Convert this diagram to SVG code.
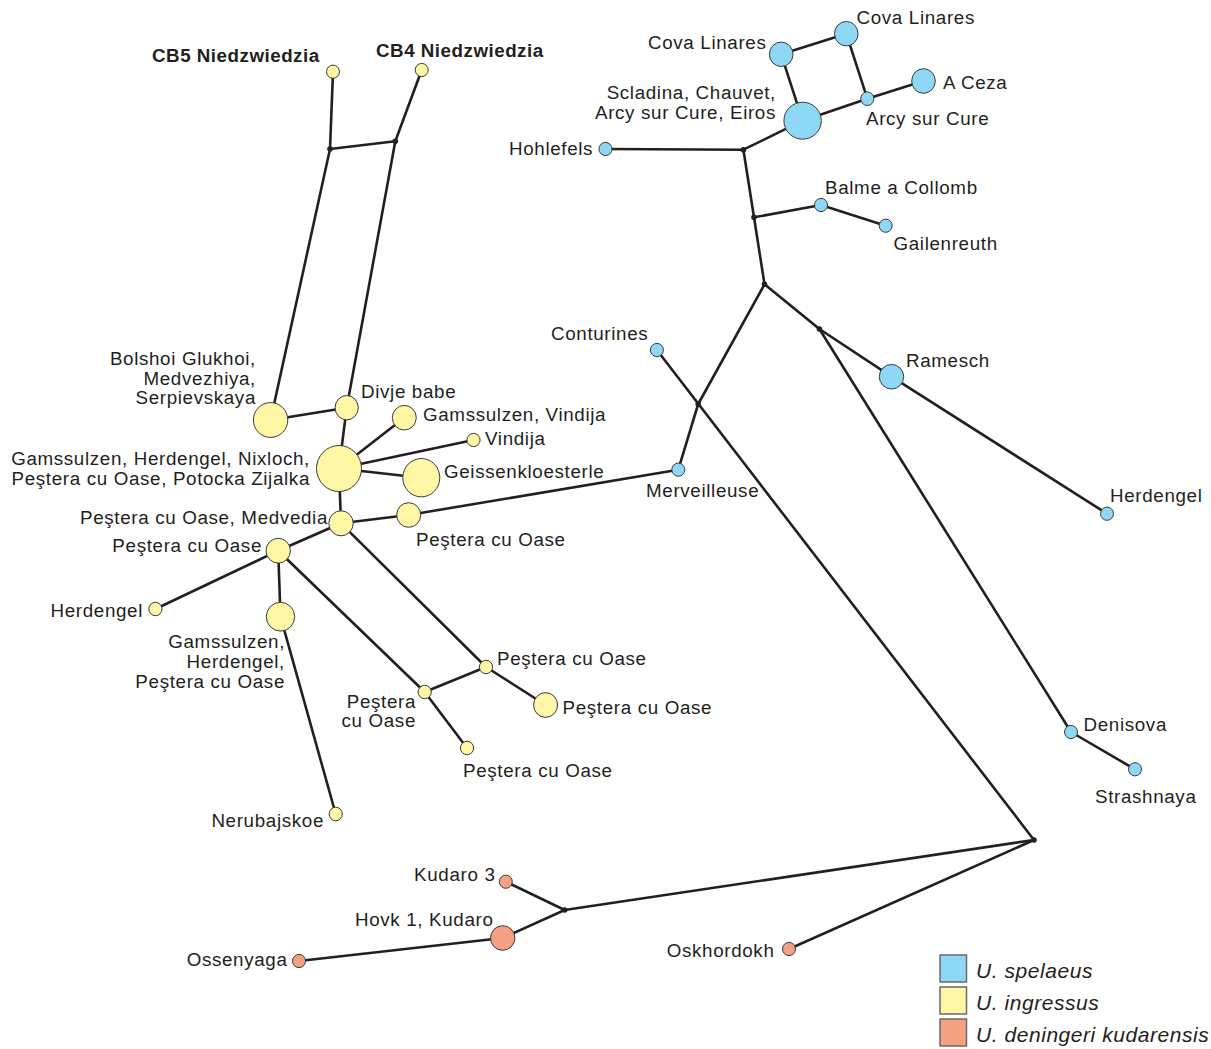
<svg xmlns="http://www.w3.org/2000/svg" width="1211" height="1049" viewBox="0 0 1211 1049">
<style>
text{font-family:"Liberation Sans",Arial,Helvetica,sans-serif;font-size:18.8px;letter-spacing:0.65px;fill:#231f20}
.b{font-weight:bold;letter-spacing:0.5px}
.e{text-anchor:end}
.lg{font-size:21px;font-style:italic;letter-spacing:0.55px}
.ed line{stroke:#231f20;stroke-width:2.6;stroke-linecap:round}
.y{fill:#fff6a6;stroke:#3a3a3a;stroke-width:1}
.s{fill:#8ed8f5;stroke:#3a3a3a;stroke-width:1}
.k{fill:#f4a083;stroke:#3a3a3a;stroke-width:1}
.j{fill:#231f20}
.sq{stroke:#6a6a6a;stroke-width:1.5}
</style>
<rect width="1211" height="1049" fill="#fff"/>
<g id="connectors" class="ed">
<line x1="333" y1="71.7" x2="330" y2="149"/>
<line x1="421.7" y1="70" x2="395.3" y2="141.3"/>
<line x1="330" y1="149" x2="395.3" y2="141.3"/>
<line x1="330" y1="149" x2="270.6" y2="420"/>
<line x1="395.3" y1="141.3" x2="346.7" y2="407.7"/>
<line x1="270.6" y1="420" x2="346.7" y2="407.7"/>
<line x1="346.7" y1="407.7" x2="339" y2="468.5"/>
<line x1="339" y1="468.5" x2="404.3" y2="417.7"/>
<line x1="339" y1="468.5" x2="473.5" y2="440"/>
<line x1="339" y1="468.5" x2="421.3" y2="477.7"/>
<line x1="339" y1="468.5" x2="341" y2="523.3"/>
<line x1="341" y1="523.3" x2="408.7" y2="515"/>
<line x1="408.7" y1="515" x2="678.3" y2="469.7"/>
<line x1="341" y1="523.3" x2="278.2" y2="550.7"/>
<line x1="278.2" y1="550.7" x2="155.4" y2="609"/>
<line x1="278.2" y1="550.7" x2="280.5" y2="616.7"/>
<line x1="280.5" y1="616.7" x2="335.7" y2="814"/>
<line x1="278.2" y1="550.7" x2="424.7" y2="692"/>
<line x1="341" y1="523.3" x2="486" y2="667"/>
<line x1="424.7" y1="692" x2="486" y2="667"/>
<line x1="486" y1="667" x2="545.6" y2="705"/>
<line x1="424.7" y1="692" x2="467" y2="748"/>
<line x1="678.3" y1="469.7" x2="698.2" y2="404"/>
<line x1="698.2" y1="404" x2="764.5" y2="284.3"/>
<line x1="656.9" y1="350" x2="1034" y2="840"/>
<line x1="764.5" y1="284.3" x2="754" y2="217.3"/>
<line x1="754" y1="217.3" x2="743.4" y2="149.7"/>
<line x1="743.4" y1="149.7" x2="605.5" y2="149"/>
<line x1="743.4" y1="149.7" x2="802.6" y2="120.7"/>
<line x1="802.6" y1="120.7" x2="781.2" y2="54.3"/>
<line x1="781.2" y1="54.3" x2="846.3" y2="33.7"/>
<line x1="846.3" y1="33.7" x2="867.3" y2="98.7"/>
<line x1="867.3" y1="98.7" x2="802.6" y2="120.7"/>
<line x1="867.3" y1="98.7" x2="923.5" y2="81"/>
<line x1="754" y1="217.3" x2="821" y2="205"/>
<line x1="821" y1="205" x2="885.7" y2="225.7"/>
<line x1="764.5" y1="284.3" x2="819.4" y2="329"/>
<line x1="819.4" y1="329" x2="891.5" y2="376.7"/>
<line x1="891.5" y1="376.7" x2="1107" y2="513.7"/>
<line x1="819.4" y1="329" x2="1071" y2="732"/>
<line x1="1071" y1="732" x2="1135" y2="769.3"/>
<line x1="1034" y1="840" x2="789" y2="949"/>
<line x1="1034" y1="840" x2="564.7" y2="910"/>
<line x1="564.7" y1="910" x2="505.8" y2="881.7"/>
<line x1="564.7" y1="910" x2="502.7" y2="938"/>
<line x1="502.7" y1="938" x2="299" y2="961"/>
</g>
<g id="junctions">
<circle class="j" cx="330" cy="149" r="2.8"/>
<circle class="j" cx="395.3" cy="141.3" r="2.8"/>
<circle class="j" cx="743.4" cy="149.7" r="2.8"/>
<circle class="j" cx="754" cy="217.3" r="2.8"/>
<circle class="j" cx="764.5" cy="284.3" r="2.8"/>
<circle class="j" cx="819.4" cy="329" r="2.8"/>
<circle class="j" cx="698.2" cy="404" r="2.8"/>
<circle class="j" cx="1034" cy="840" r="2.8"/>
<circle class="j" cx="564.7" cy="910" r="2.8"/>
</g>
<g id="n-cb5"><ellipse class="y" cx="333" cy="71.7" rx="6.5" ry="6.6"/><text class="b" x="152" y="62">CB5 Niedzwiedzia</text></g>
<g id="n-cb4"><ellipse class="y" cx="421.7" cy="70" rx="6.5" ry="6.6"/><text class="b" x="376" y="57">CB4 Niedzwiedzia</text></g>
<g id="n-bolshoi"><ellipse class="y" cx="270.6" cy="420" rx="17.2" ry="17.4"/><text class="e" x="256" y="365">Bolshoi Glukhoi,</text><text class="e" x="256" y="384.5">Medvezhiya,</text><text class="e" x="256" y="403.5">Serpievskaya</text></g>
<g id="n-divje"><ellipse class="y" cx="346.7" cy="407.7" rx="11.6" ry="12.2"/><text x="361" y="398">Divje babe</text></g>
<g id="n-gamvin"><ellipse class="y" cx="404.3" cy="417.7" rx="12" ry="12.3"/><text x="423" y="421">Gamssulzen, Vindija</text></g>
<g id="n-vindija"><ellipse class="y" cx="473.5" cy="440" rx="6.6" ry="6.6"/><text x="485" y="445">Vindija</text></g>
<g id="n-big"><ellipse class="y" cx="339" cy="468.5" rx="22.5" ry="23"/><text class="e" x="310" y="465">Gamssulzen, Herdengel, Nixloch,</text><text class="e" x="310" y="484.5">Peştera cu Oase, Potocka Zijalka</text></g>
<g id="n-geissen"><ellipse class="y" cx="421.3" cy="477.7" rx="18.5" ry="19.2"/><text x="444" y="478">Geissenkloesterle</text></g>
<g id="n-medvedia"><ellipse class="y" cx="341" cy="523.3" rx="12.2" ry="12.5"/><text class="e" x="328" y="523.5">Peştera cu Oase, Medvedia</text></g>
<g id="n-pr"><ellipse class="y" cx="408.7" cy="515" rx="12" ry="12.3"/><text x="416" y="546">Peştera cu Oase</text></g>
<g id="n-pl"><ellipse class="y" cx="278.2" cy="550.7" rx="12.2" ry="12.4"/><text class="e" x="262" y="552">Peştera cu Oase</text></g>
<g id="n-herd-l"><ellipse class="y" cx="155.4" cy="609" rx="6.6" ry="6.7"/><text class="e" x="143" y="617">Herdengel</text></g>
<g id="n-ghp"><ellipse class="y" cx="280.5" cy="616.7" rx="14.2" ry="14.4"/><text class="e" x="285" y="648">Gamssulzen,</text><text class="e" x="285" y="668">Herdengel,</text><text class="e" x="285" y="688">Peştera cu Oase</text></g>
<g id="n-nerub"><ellipse class="y" cx="335.7" cy="814" rx="6.6" ry="6.8"/><text class="e" x="324" y="827">Nerubajskoe</text></g>
<g id="n-p486"><ellipse class="y" cx="486" cy="667" rx="6.6" ry="6.7"/><text x="497" y="664.5">Peştera cu Oase</text></g>
<g id="n-p424"><ellipse class="y" cx="424.7" cy="692" rx="6.6" ry="6.7"/><text class="e" x="416" y="708">Peştera</text><text class="e" x="416" y="727">cu Oase</text></g>
<g id="n-p546"><ellipse class="y" cx="545.6" cy="705" rx="12" ry="12.4"/><text x="562.5" y="713.5">Peştera cu Oase</text></g>
<g id="n-p467"><ellipse class="y" cx="467" cy="748" rx="6.6" ry="6.7"/><text x="463" y="777">Peştera cu Oase</text></g>
<g id="n-cova-l"><ellipse class="s" cx="781.2" cy="54.3" rx="11.8" ry="12.2"/><text x="648" y="48.5">Cova Linares</text></g>
<g id="n-cova-r"><ellipse class="s" cx="846.3" cy="33.7" rx="11.8" ry="12.2"/><text x="856.5" y="23.5">Cova Linares</text></g>
<g id="n-aceza"><ellipse class="s" cx="923.5" cy="81" rx="11.8" ry="12.3"/><text x="943" y="88.5">A Ceza</text></g>
<g id="n-arcy"><ellipse class="s" cx="867.3" cy="98.7" rx="6.6" ry="6.8"/><text x="866" y="124.5">Arcy sur Cure</text></g>
<g id="n-scladina"><ellipse class="s" cx="802.6" cy="120.7" rx="18.7" ry="18.5"/><text class="e" x="776" y="99">Scladina, Chauvet,</text><text class="e" x="776" y="118.5">Arcy sur Cure, Eiros</text></g>
<g id="n-hohlefels"><ellipse class="s" cx="605.5" cy="149" rx="6.5" ry="6.6"/><text x="509" y="155">Hohlefels</text></g>
<g id="n-balme"><ellipse class="s" cx="821" cy="205" rx="6.5" ry="6.6"/><text x="825" y="193.5">Balme a Collomb</text></g>
<g id="n-gailen"><ellipse class="s" cx="885.7" cy="225.7" rx="6.5" ry="6.6"/><text x="893.5" y="250">Gailenreuth</text></g>
<g id="n-conturines"><ellipse class="s" cx="656.9" cy="350" rx="6.5" ry="6.6"/><text x="551" y="339.5">Conturines</text></g>
<g id="n-ramesch"><ellipse class="s" cx="891.5" cy="376.7" rx="12.2" ry="12.3"/><text x="906" y="366.5">Ramesch</text></g>
<g id="n-herd-r"><ellipse class="s" cx="1107" cy="513.7" rx="6.5" ry="6.6"/><text x="1110" y="501.5">Herdengel</text></g>
<g id="n-merv"><ellipse class="s" cx="678.3" cy="469.7" rx="6.5" ry="6.6"/><text x="646" y="496.5">Merveilleuse</text></g>
<g id="n-denisova"><ellipse class="s" cx="1071" cy="732" rx="6.5" ry="6.6"/><text x="1083.5" y="730.5">Denisova</text></g>
<g id="n-strash"><ellipse class="s" cx="1135" cy="769.3" rx="6.5" ry="6.6"/><text x="1095" y="803">Strashnaya</text></g>
<g id="n-kudaro3"><ellipse class="k" cx="505.8" cy="881.7" rx="6.5" ry="6.6"/><text class="e" x="495.5" y="881">Kudaro 3</text></g>
<g id="n-hovk"><ellipse class="k" cx="502.7" cy="938" rx="12.2" ry="12.3"/><text class="e" x="493.5" y="926">Hovk 1, Kudaro</text></g>
<g id="n-ossen"><ellipse class="k" cx="299" cy="961" rx="6.5" ry="6.6"/><text class="e" x="287.5" y="966">Ossenyaga</text></g>
<g id="n-oskh"><ellipse class="k" cx="789" cy="949" rx="6.5" ry="6.6"/><text class="e" x="774.5" y="957">Oskhordokh</text></g>
<g id="legend">
<rect class="sq" x="940" y="955" width="26.5" height="27" fill="#8ed8f5"/>
<rect class="sq" x="940" y="987" width="26.5" height="27" fill="#fff6a6"/>
<rect class="sq" x="940" y="1019" width="26.5" height="27" fill="#f4a083"/>
<text class="lg" x="976" y="978">U. spelaeus</text>
<text class="lg" x="976" y="1010">U. ingressus</text>
<text class="lg" x="976" y="1042">U. deningeri kudarensis</text>
</g>
</svg>
